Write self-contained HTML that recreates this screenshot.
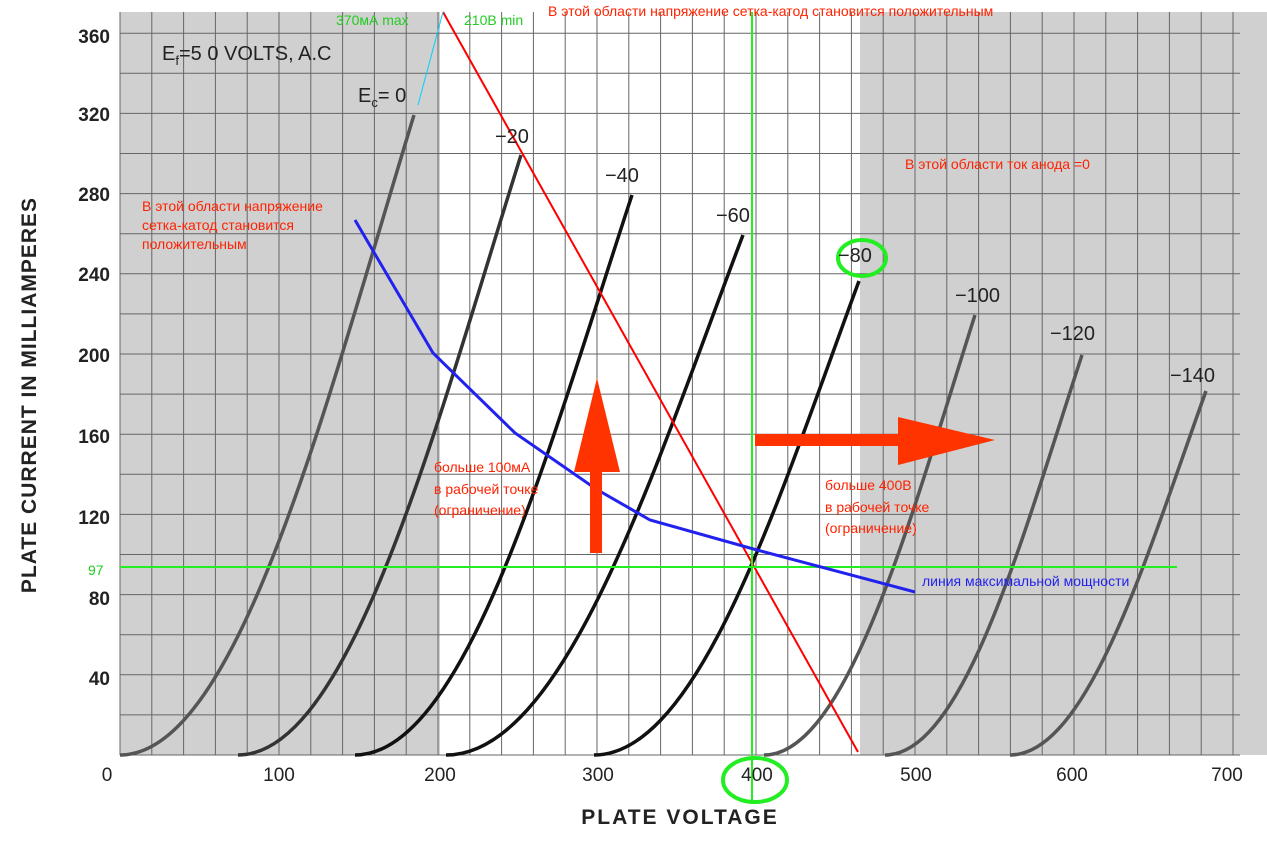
<!DOCTYPE html>
<html><head><meta charset="utf-8"><style>
html,body{margin:0;padding:0;background:#fff;}
svg{display:block;font-family:"Liberation Sans",sans-serif;}
</style></head><body>
<svg width="1267" height="850" xmlns="http://www.w3.org/2000/svg">
<rect x="0" y="0" width="1267" height="850" fill="#fff"/>
<rect x="120" y="12" width="320" height="743" fill="#d0d0d0"/>
<rect x="860" y="12" width="407" height="743" fill="#d0d0d0"/>
<path stroke="#666" stroke-width="1" fill="none" d="
M120 12V755M151.8 12V755M183.6 12V755M215.4 12V755M247.2 12V755M279 12V755M310.8 12V755M342.6 12V755M374.4 12V755M406.2 12V755M438 12V755M469.8 12V755M501.6 12V755M533.4 12V755M565.2 12V755M597 12V755M628.8 12V755M660.6 12V755M692.4 12V755M724.2 12V755M756 12V755M787.8 12V755M819.6 12V755M851.4 12V755M883.2 12V755M915 12V755M946.8 12V755M978.6 12V755M1010.4 12V755M1042.2 12V755M1074 12V755M1105.8 12V755M1137.6 12V755M1169.4 12V755M1201.2 12V755M1233 12V755
M120 755H1240M120 714.9H1240M120 674.8H1240M120 634.7H1240M120 594.6H1240M120 554.5H1240M120 514.4H1240M120 474.3H1240M120 434.2H1240M120 394.1H1240M120 354H1240M120 313.9H1240M120 273.8H1240M120 233.7H1240M120 193.6H1240M120 153.5H1240M120 113.4H1240M120 73.3H1240M120 33.2H1240"/>
<g fill="none" stroke-width="3.5">
<path stroke="#555" d="M120 755C238 755 326 403 414 115"/>
<path stroke="#333" d="M238 755C351 755 436 425 521 155"/>
<path stroke="#111" d="M355 755C466 755 549 447 632 195"/>
<path stroke="#111" d="M446 755C565 755 654 469 743 235"/>
<path stroke="#111" d="M594 755C700 755 780 494 859 281"/>
<path stroke="#555" d="M764 755C848 755 912 513 975 315"/>
<path stroke="#555" d="M885 755C964 755 1023 535 1082 355"/>
<path stroke="#555" d="M1010 755C1088 755 1147 555 1206 391"/>
</g>
<line x1="443" y1="12" x2="858" y2="752" stroke="#ff0000" stroke-width="2"/>
<line x1="418" y1="105" x2="443" y2="12" stroke="#00d0ff" stroke-width="1"/>
<line x1="752" y1="12" x2="752" y2="800" stroke="#22ee22" stroke-width="2"/>
<line x1="120" y1="567" x2="1177" y2="567" stroke="#22ee22" stroke-width="2"/>
<polyline points="355,220 433,353 515,433 596,489 650,520 757,550 915,592" fill="none" stroke="#2222ee" stroke-width="3"/>
<rect x="590" y="470" width="12" height="83" fill="#ff3300"/>
<polygon points="574,472 620,472 597,378" fill="#ff3300"/>
<rect x="755" y="434" width="148" height="12" fill="#ff3300"/>
<polygon points="898,417 898,465 995,440" fill="#ff3300"/>
<ellipse cx="755" cy="780" rx="32" ry="22" fill="none" stroke="#22ee22" stroke-width="4"/>
<ellipse cx="862" cy="258" rx="24" ry="18" fill="none" stroke="#22ee22" stroke-width="4"/>
<g font-size="19" fill="#222" text-anchor="end" font-weight="bold">
<text x="110" y="43">360</text><text x="110" y="121">320</text><text x="110" y="201">280</text>
<text x="110" y="281">240</text><text x="110" y="362">200</text><text x="110" y="443">160</text>
<text x="110" y="524">120</text><text x="110" y="605">80</text><text x="110" y="685">40</text>
</g>
<text x="88" y="575" font-size="14" fill="#22cc22">97</text>
<g font-size="19" fill="#222" text-anchor="middle">
<text x="107" y="781">0</text><text x="279" y="781">100</text><text x="440" y="781">200</text>
<text x="598" y="781">300</text><text x="757" y="781">400</text><text x="916" y="781">500</text>
<text x="1072" y="781">600</text><text x="1227" y="781">700</text>
</g>
<text x="680" y="824" font-size="21" font-weight="bold" text-anchor="middle" fill="#222" letter-spacing="2">PLATE VOLTAGE</text>
<text transform="translate(36,395) rotate(-90)" font-size="21" font-weight="bold" text-anchor="middle" fill="#222" letter-spacing="1">PLATE CURRENT IN MILLIAMPERES</text>
<g font-size="20" fill="#222">
<text x="162" y="60">E<tspan font-size="13" dy="5">f</tspan><tspan dy="-5">=5 0  VOLTS, A.C</tspan></text>
<text x="358" y="102">E<tspan font-size="13" dy="5">c</tspan><tspan dy="-5">= 0</tspan></text>
<text x="495" y="143">−20</text><text x="605" y="182">−40</text><text x="716" y="222">−60</text>
<text x="838" y="262">−80</text><text x="955" y="302">−100</text><text x="1050" y="340">−120</text>
<text x="1170" y="382">−140</text>
</g>
<g font-size="14" fill="#ff2200">
<text x="548" y="16">В этой области напряжение сетка-катод становится положительным</text>
<text x="905" y="169">В этой области ток анода =0</text>
<text x="142" y="211">В этой области напряжение</text>
<text x="142" y="230">сетка-катод становится</text>
<text x="142" y="249">положительным</text>
<text x="434" y="472">больше 100мА</text><text x="434" y="494">в рабочей точке</text><text x="434" y="515">(ограничение)</text>
<text x="825" y="490">больше 400В</text><text x="825" y="512">в рабочей точке</text><text x="825" y="533">(ограничение)</text>
</g>
<text x="922" y="586" font-size="14" fill="#2222ee">линия максимальной мощности</text>
<text x="336" y="25" font-size="14" fill="#22cc22">370мА max</text>
<text x="464" y="25" font-size="14" fill="#22cc22">210В min</text>
</svg>
</body></html>
